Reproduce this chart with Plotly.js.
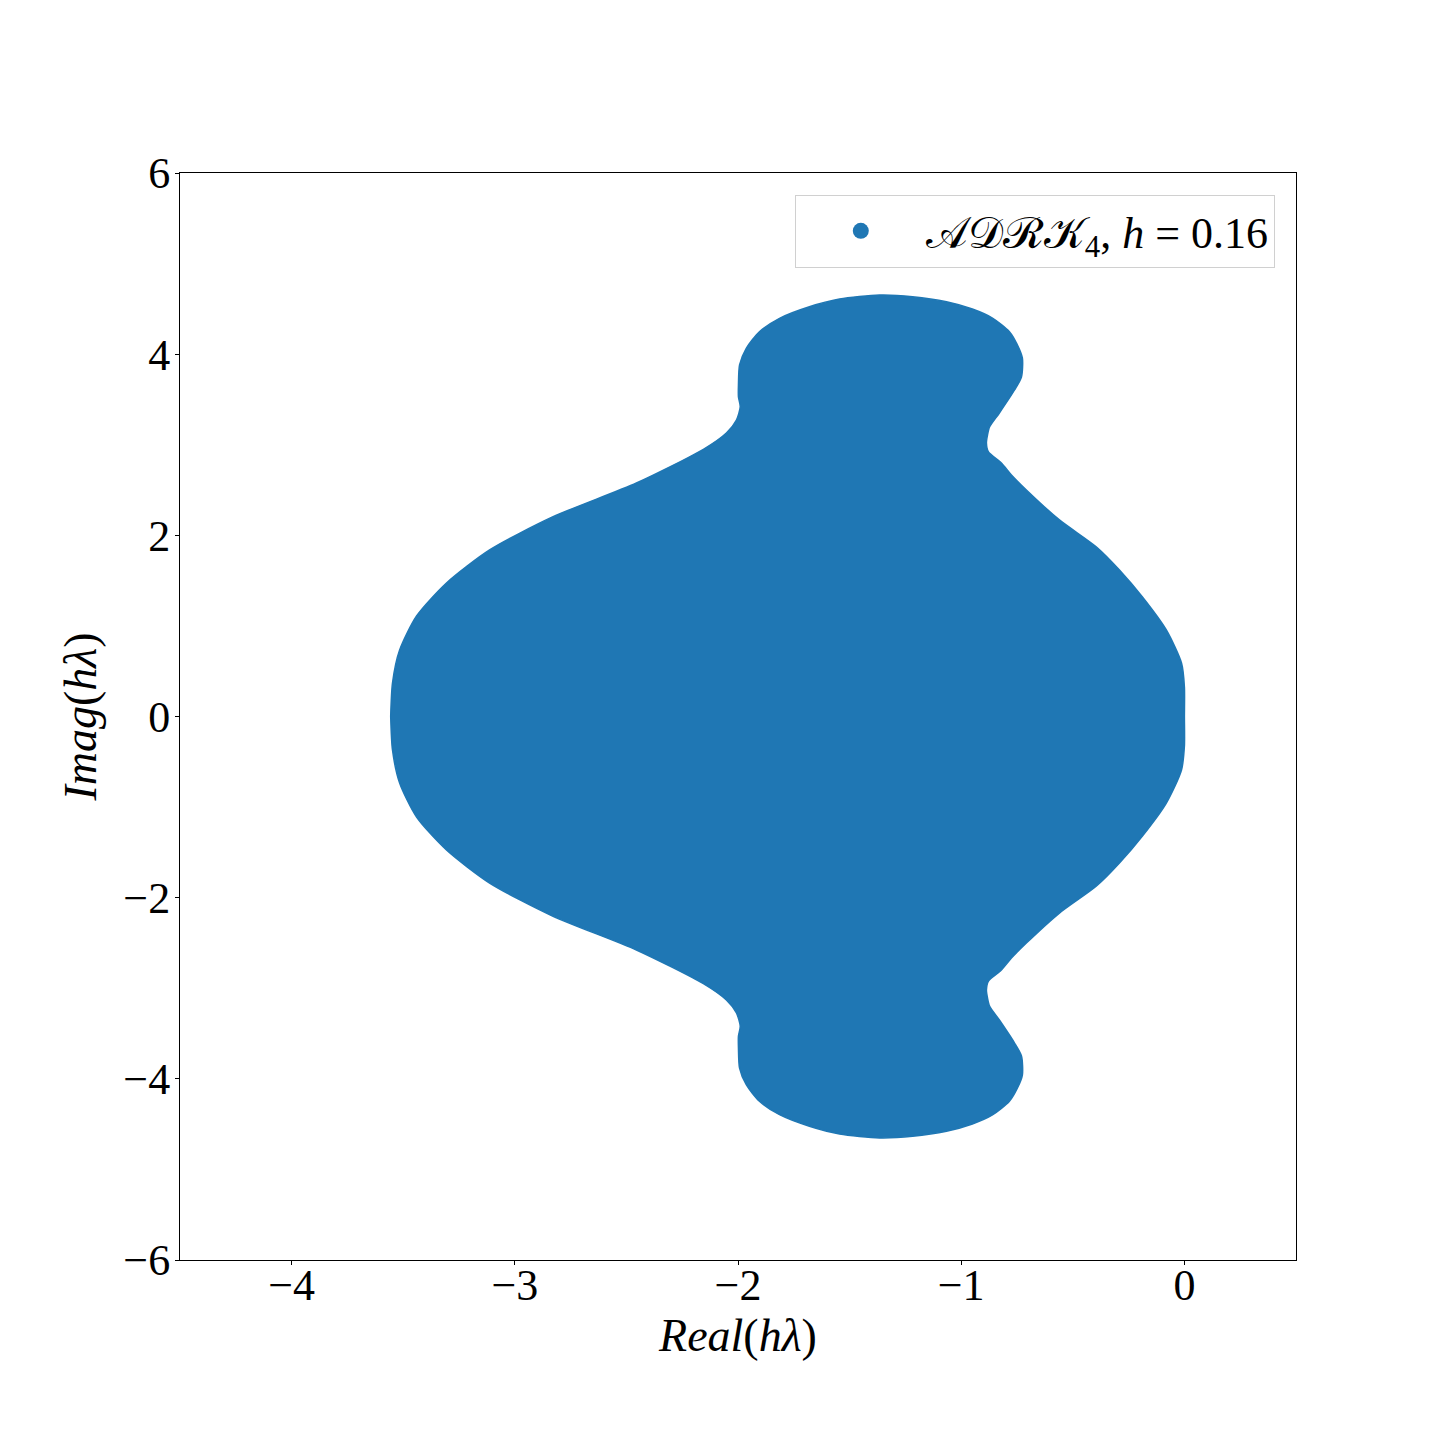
<!DOCTYPE html>
<html>
<head>
<meta charset="utf-8">
<script src="https://cdn.plot.ly/plotly-3.0.1.min.js"></script>
<style>html,body{margin:0;padding:0;background:#fff;}#chart{width:1440px;height:1440px;}</style>
</head>
<body>
<div id="chart"></div>
<script>
// Upper boundary of the stability region, from (0,0) around the top to the left end
const upperReal = [0, 0, -0.013, -0.081, -0.188, -0.291, -0.394, -0.560, -0.708, -0.775, -0.820, -0.878, -0.887, -0.882, -0.873, -0.829, -0.761, -0.730, -0.726, -0.748, -0.784, -0.860, -0.950, -1.066, -1.218, -1.366, -1.545, -1.680, -1.814, -1.904, -1.963, -1.993, -1.998, -1.998, -1.990, -2.007, -2.052, -2.155, -2.455, -2.831, -3.113, -3.306, -3.440, -3.516, -3.548, -3.556];
const upperImag = [0, 0.326, 0.590, 0.955, 1.319, 1.617, 1.871, 2.170, 2.501, 2.667, 2.799, 2.920, 3.020, 3.110, 3.196, 3.351, 3.605, 3.748, 3.958, 4.101, 4.248, 4.399, 4.499, 4.579, 4.635, 4.653, 4.609, 4.524, 4.396, 4.248, 4.065, 3.881, 3.660, 3.527, 3.420, 3.273, 3.130, 2.950, 2.578, 2.203, 1.839, 1.474, 1.110, 0.734, 0.370, 0];
// Lower boundary, from the left end around the bottom back to (0,0)
const lowerReal = [-3.556, -3.548, -3.516, -3.440, -3.306, -3.113, -2.831, -2.455, -2.155, -2.052, -2.007, -1.990, -1.998, -1.998, -1.993, -1.963, -1.904, -1.814, -1.680, -1.545, -1.366, -1.218, -1.066, -0.950, -0.860, -0.784, -0.748, -0.726, -0.730, -0.761, -0.829, -0.873, -0.882, -0.887, -0.878, -0.820, -0.775, -0.708, -0.560, -0.394, -0.291, -0.188, -0.081, -0.013, 0, 0];
const lowerImag = [0, -0.370, -0.734, -1.110, -1.474, -1.839, -2.203, -2.578, -2.950, -3.130, -3.273, -3.420, -3.527, -3.660, -3.881, -4.065, -4.248, -4.396, -4.524, -4.609, -4.653, -4.635, -4.579, -4.499, -4.399, -4.248, -4.101, -3.958, -3.748, -3.605, -3.351, -3.196, -3.110, -3.020, -2.920, -2.799, -2.667, -2.501, -2.170, -1.871, -1.617, -1.319, -0.955, -0.590, -0.326, 0];

const xTickVals = [-4, -3, -2, -1, 0];
const xTickText = ["\u22124", "\u22123", "\u22122", "\u22121", "0"];
const yTickVals = [-6, -4, -2, 0, 2, 4, 6];
const yTickText = ["\u22126", "\u22124", "\u22122", "0", "2", "4", "6"];
const legendLabel = "\uD835\uDC9C\uD835\uDC9F\u211B\uD835\uDCA6<sub>4</sub>, <i>h</i> = 0.16";

const blue = "#1f77b4";
const FONT = "Liberation Serif, DejaVu Serif, serif";

const traces = [
  {
    x: upperReal.concat(lowerReal),
    y: upperImag.concat(lowerImag),
    mode: "lines",
    fill: "toself",
    fillcolor: blue,
    line: {color: blue, width: 1.5, shape: "spline", smoothing: 0.7},
    showlegend: false,
    hoverinfo: "skip"
  },
  {
    x: [null], y: [null],
    mode: "markers",
    marker: {color: blue, size: 25, symbol: "circle"},
    name: legendLabel,
    showlegend: true
  }
];

const layout = {
  width: 1440, height: 1440,
  paper_bgcolor: "#fff", plot_bgcolor: "#fff",
  margin: {l: 180, r: 144, t: 173, b: 180, pad: 0},
  font: {family: FONT, size: 44, color: "#000"},
  showlegend: true,
  legend: {
    x: 0.981, y: 0.98, xanchor: "right", yanchor: "top",
    bgcolor: "rgba(255,255,255,0.8)", bordercolor: "#d0d0d0", borderwidth: 1,
    font: {family: FONT, size: 44, color: "#000"},
    itemwidth: 120,
    itemsizing: "trace"
  },
  xaxis: {
    range: [-4.5, 0.5], tickvals: xTickVals, ticktext: xTickText,
    showgrid: false, zeroline: false,
    showline: true, mirror: true, linecolor: "#000", linewidth: 1,
    ticks: "outside", ticklen: 4, tickcolor: "#000", tickwidth: 1,
    ticklabelstandoff: -18,
    tickfont: {family: FONT, size: 44},
    title: {text: "<i>Real</i>(<i>h\u03BB</i>)", font: {family: FONT, size: 46}, standoff: 0}
  },
  yaxis: {
    range: [-6, 6], tickvals: yTickVals, ticktext: yTickText,
    showgrid: false, zeroline: false,
    showline: true, mirror: true, linecolor: "#000", linewidth: 1,
    ticks: "outside", ticklen: 4, tickcolor: "#000", tickwidth: 1,
    ticklabelstandoff: -4,
    tickfont: {family: FONT, size: 44},
    title: {text: "<i>Imag</i>(<i>h\u03BB</i>)", font: {family: FONT, size: 46}, standoff: 12}
  }
};

Plotly.newPlot("chart", traces, layout, {displayModeBar: false, staticPlot: true});
</script>
</body>
</html>
